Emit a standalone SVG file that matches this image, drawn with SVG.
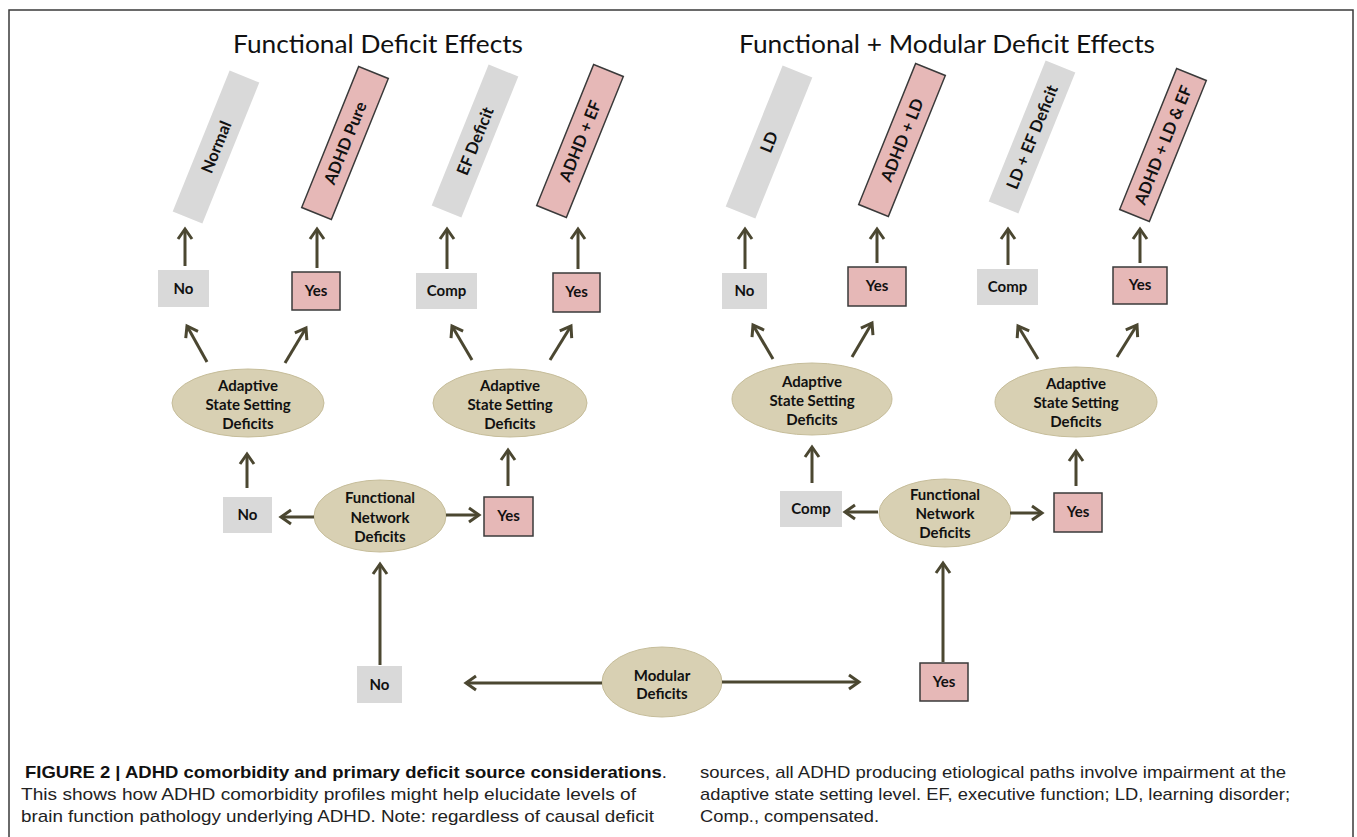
<svg xmlns="http://www.w3.org/2000/svg" width="1357" height="837" viewBox="0 0 1357 837">
<defs>
<marker id="ah" markerUnits="userSpaceOnUse" markerWidth="20" markerHeight="20" viewBox="-14 -10 20 20" refX="0" refY="0" orient="auto">
<path d="M-10,-7 L0,0 L-10,7" fill="none" stroke="#4b4731" stroke-width="3" stroke-linejoin="miter"/>
</marker>
<style>
.title{font-family:Lato,"Open Sans","Liberation Sans",sans-serif;font-size:25px;fill:#111}
.lbl{font-family:Lato,"Open Sans","Liberation Sans",sans-serif;font-weight:bold;font-size:15px;fill:#111;text-anchor:middle}
.tl{font-size:16.5px}
.gray{fill:#d9d9d9}
.pink{fill:#e6b8b7;stroke:#3a3a3a;stroke-width:1.5}
.ell{fill:#d8d0b3;stroke:#c6bd9a;stroke-width:1}
.cap{font-family:"Liberation Sans",Arial,sans-serif;font-size:17px;fill:#222}
.capb{font-weight:bold;fill:#111}
#connectors line{stroke:#4b4731;stroke-width:3;marker-end:url(#ah)}
</style>
</defs>
<rect width="1357" height="837" fill="#fff"/>
<path d="M9,837 V10 H1353 V837" fill="none" stroke="#3a3a3a" stroke-width="1.5"/>

<text class="title" x="233" y="53" textLength="290" lengthAdjust="spacingAndGlyphs">Functional Deficit Effects</text>
<text class="title" x="739" y="53" textLength="416" lengthAdjust="spacingAndGlyphs">Functional + Modular Deficit Effects</text>

<!-- outcome boxes (tilted) -->
<g id="out-normal" transform="translate(216,147) rotate(-68)"><rect class="gray" x="-76" y="-16" width="152" height="32"/><text class="lbl tl" x="0" y="6">Normal</text></g>
<g id="out-adhd-pure" transform="translate(345,143) rotate(-68)"><rect class="pink" x="-76" y="-16" width="152" height="32"/><text class="lbl tl" x="0" y="6">ADHD Pure</text></g>
<g id="out-ef" transform="translate(475,141) rotate(-68)"><rect class="gray" x="-76" y="-16" width="152" height="32"/><text class="lbl tl" x="0" y="6">EF Deficit</text></g>
<g id="out-adhd-ef" transform="translate(580,141) rotate(-68)"><rect class="pink" x="-76" y="-16" width="152" height="32"/><text class="lbl tl" x="0" y="6">ADHD + EF</text></g>
<g id="out-ld" transform="translate(769,142) rotate(-68)"><rect class="gray" x="-76" y="-16" width="152" height="32"/><text class="lbl tl" x="0" y="6">LD</text></g>
<g id="out-adhd-ld" transform="translate(902,140) rotate(-68)"><rect class="pink" x="-76" y="-16" width="152" height="32"/><text class="lbl tl" x="0" y="6">ADHD + LD</text></g>
<g id="out-ld-ef" transform="translate(1032,137) rotate(-68)"><rect class="gray" x="-76" y="-16" width="152" height="32"/><text class="lbl tl" x="0" y="6">LD + EF Deficit</text></g>
<g id="out-adhd-ld-ef" transform="translate(1163,145) rotate(-68)"><rect class="pink" x="-76" y="-16" width="152" height="32"/><text class="lbl tl" x="0" y="6">ADHD + LD &amp; EF</text></g>

<!-- row 1 decision boxes -->
<g id="r1-no-a"><rect class="gray" x="158" y="270" width="51" height="37"/><text class="lbl" x="183.5" y="294">No</text></g>
<g id="r1-yes-a"><rect class="pink" x="292" y="272" width="48" height="38"/><text class="lbl" x="316" y="296">Yes</text></g>
<g id="r1-comp-b"><rect class="gray" x="416" y="273" width="61" height="36"/><text class="lbl" x="446.5" y="296">Comp</text></g>
<g id="r1-yes-b"><rect class="pink" x="553" y="273" width="47" height="39"/><text class="lbl" x="576.5" y="297">Yes</text></g>
<g id="r1-no-c"><rect class="gray" x="722" y="273" width="45" height="36"/><text class="lbl" x="744.5" y="296">No</text></g>
<g id="r1-yes-c"><rect class="pink" x="848" y="267" width="58" height="39"/><text class="lbl" x="877" y="291">Yes</text></g>
<g id="r1-comp-d"><rect class="gray" x="977" y="269" width="61" height="36"/><text class="lbl" x="1007.5" y="292">Comp</text></g>
<g id="r1-yes-d"><rect class="pink" x="1113" y="267" width="54" height="37"/><text class="lbl" x="1140" y="290">Yes</text></g>

<!-- adaptive state setting ellipses -->
<g id="ass-a"><ellipse class="ell" cx="248" cy="403" rx="76" ry="34"/><text class="lbl" x="248" y="391">Adaptive</text><text class="lbl" x="248" y="410">State Setting</text><text class="lbl" x="248" y="429">Deficits</text></g>
<g id="ass-b"><ellipse class="ell" cx="510" cy="403" rx="77" ry="34"/><text class="lbl" x="510" y="391">Adaptive</text><text class="lbl" x="510" y="410">State Setting</text><text class="lbl" x="510" y="429">Deficits</text></g>
<g id="ass-c"><ellipse class="ell" cx="812" cy="399" rx="80" ry="36"/><text class="lbl" x="812" y="387">Adaptive</text><text class="lbl" x="812" y="406">State Setting</text><text class="lbl" x="812" y="425">Deficits</text></g>
<g id="ass-d"><ellipse class="ell" cx="1076" cy="402" rx="81" ry="35"/><text class="lbl" x="1076" y="389">Adaptive</text><text class="lbl" x="1076" y="408">State Setting</text><text class="lbl" x="1076" y="427">Deficits</text></g>

<!-- row 2 -->
<g id="r2-no"><rect class="gray" x="223" y="497" width="49" height="36"/><text class="lbl" x="247.5" y="520">No</text></g>
<g id="r2-yes"><rect class="pink" x="484" y="497" width="49" height="39"/><text class="lbl" x="508.5" y="521">Yes</text></g>
<g id="fn-a"><ellipse class="ell" cx="380" cy="516" rx="66" ry="36"/><text class="lbl" x="380" y="503">Functional</text><text class="lbl" x="380" y="523">Network</text><text class="lbl" x="380" y="542">Deficits</text></g>
<g id="r2-comp"><rect class="gray" x="780" y="491" width="62" height="36"/><text class="lbl" x="811" y="514">Comp</text></g>
<g id="r2-yes2"><rect class="pink" x="1054" y="493" width="48" height="39"/><text class="lbl" x="1078" y="517">Yes</text></g>
<g id="fn-b"><ellipse class="ell" cx="945" cy="513" rx="66" ry="34"/><text class="lbl" x="945" y="500">Functional</text><text class="lbl" x="945" y="519">Network</text><text class="lbl" x="945" y="538">Deficits</text></g>

<!-- bottom -->
<g id="mod-no"><rect class="gray" x="357" y="666" width="45" height="37"/><text class="lbl" x="379.5" y="690">No</text></g>
<g id="mod-yes"><rect class="pink" x="920" y="663" width="48" height="38"/><text class="lbl" x="944" y="687">Yes</text></g>
<g id="modular"><ellipse class="ell" cx="662" cy="682" rx="60" ry="35"/><text class="lbl" x="662" y="681">Modular</text><text class="lbl" x="662" y="699">Deficits</text></g>

<g id="connectors">
<line x1="185" y1="266" x2="185" y2="229"/>
<line x1="317" y1="268" x2="317" y2="229"/>
<line x1="447" y1="269" x2="447" y2="229"/>
<line x1="578" y1="269" x2="578" y2="229"/>
<line x1="745" y1="269" x2="745" y2="229"/>
<line x1="877" y1="263" x2="877" y2="229"/>
<line x1="1008" y1="265" x2="1008" y2="229"/>
<line x1="1140" y1="263" x2="1140" y2="229"/>
<line x1="207" y1="362" x2="187" y2="326"/>
<line x1="285" y1="363" x2="306" y2="328"/>
<line x1="472" y1="360" x2="452" y2="326"/>
<line x1="550" y1="360" x2="571" y2="326"/>
<line x1="773" y1="359" x2="753" y2="325"/>
<line x1="852" y1="357" x2="872" y2="323"/>
<line x1="1038" y1="359" x2="1018" y2="326"/>
<line x1="1117" y1="357" x2="1137" y2="325"/>
<line x1="247" y1="488" x2="247" y2="454"/>
<line x1="508" y1="486" x2="508" y2="450"/>
<line x1="812" y1="483" x2="812" y2="447"/>
<line x1="1076" y1="486" x2="1076" y2="451"/>
<line x1="314" y1="517" x2="281" y2="517"/>
<line x1="446" y1="515" x2="479" y2="515"/>
<line x1="878" y1="512" x2="845" y2="512"/>
<line x1="1010" y1="513" x2="1042" y2="513"/>
<line x1="380" y1="665" x2="380" y2="564"/>
<line x1="602" y1="683" x2="466" y2="683"/>
<line x1="722" y1="682" x2="859" y2="682"/>
<line x1="943" y1="662" x2="943" y2="563"/>
</g>

<g id="caption">
<text class="cap" x="25" y="778" textLength="642" lengthAdjust="spacingAndGlyphs"><tspan class="capb">FIGURE 2 | ADHD comorbidity and primary deficit source considerations</tspan>.</text>
<text class="cap" x="21" y="800" textLength="615" lengthAdjust="spacingAndGlyphs">This shows how ADHD comorbidity profiles might help elucidate levels of</text>
<text class="cap" x="21" y="822" textLength="633" lengthAdjust="spacingAndGlyphs">brain function pathology underlying ADHD. Note: regardless of causal deficit</text>
<text class="cap" x="700" y="778" textLength="586" lengthAdjust="spacingAndGlyphs">sources, all ADHD producing etiological paths involve impairment at the</text>
<text class="cap" x="700" y="800" textLength="590" lengthAdjust="spacingAndGlyphs">adaptive state setting level. EF, executive function; LD, learning disorder;</text>
<text class="cap" x="700" y="822" textLength="179" lengthAdjust="spacingAndGlyphs">Comp., compensated.</text>
</g>
</svg>
